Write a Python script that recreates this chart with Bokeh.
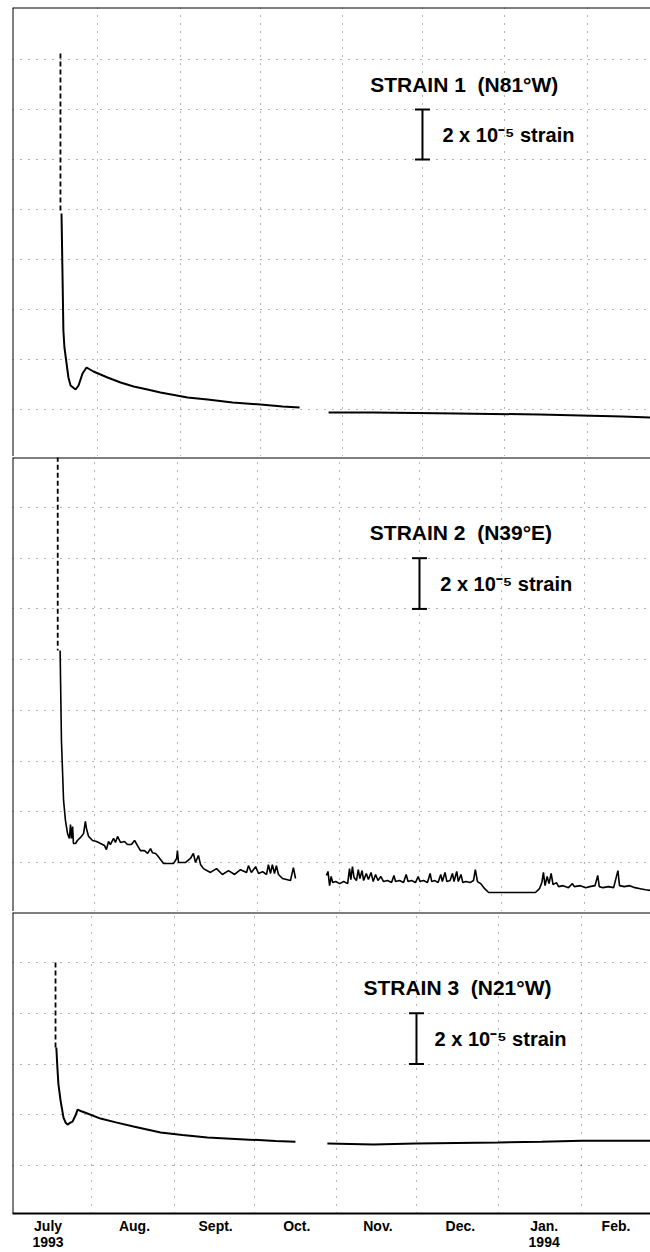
from bokeh.plotting import figure
from bokeh.models import Span, Grid, FixedTicker, Whisker, TeeHead, ColumnDataSource, Label
from bokeh.layouts import column
from bokeh.embed import file_html
from bokeh.resources import INLINE

# ---------------- data (x = days since 1 July 1993, y = strain in units of 1e-5) -------------
month_start_days = [31, 62, 92, 123, 153, 184, 215]
month_label_days = [14.5, 47, 77.5, 108, 138.5, 169.5, 201, 228]
month_labels = ["July\n1993", "Aug.", "Sept.", "Oct.", "Nov.", "Dec.", "Jan.\n1994", "Feb."]

titles = ["STRAIN 1\u00a0 (N81\u00b0W)", "STRAIN 2\u00a0 (N39\u00b0E)", "STRAIN 3\u00a0 (N21\u00b0W)"]
scale_text = "2 x 10\u207b\u2075 strain"

# strain 1
s1_dash_day = [16.9, 16.9]
s1_dash_val = [14.24, 7.84]
s1_day_a = [17.3, 17.7, 18.0, 18.4, 19.2, 19.9, 20.7, 22.6, 23.7, 25.2,
            26.7, 29.3, 34.6, 39.5, 44.4, 49.6, 54.5, 64.7, 72.2, 81.6,
            92.1, 100.4, 106.8]
s1_val_a = [7.84, 5.2, 3.16, 2.48, 1.84, 1.28, 0.96, 0.80, 0.96, 1.44,
            1.68, 1.52, 1.28, 1.08, 0.92, 0.80, 0.68, 0.48, 0.40, 0.28,
            0.20, 0.12, 0.08]
s1_day_b = [117.7, 134.6, 165.8, 197.0, 228.2, 238.7]
s1_val_b = [-0.12, -0.12, -0.16, -0.20, -0.28, -0.32]

# strain 2
s2_dash_day = [17.0, 17.0]
s2_dash_val = [16.0, 8.36]
s2_day_a = [17.9, 18.4, 19.2, 19.9, 20.7, 21.4, 21.8, 22.2, 22.6, 22.9,
            23.7, 24.4, 25.6, 26.7, 27.4, 27.8, 28.6, 30.1, 31.6, 33.1,
            34.6, 35.3, 36.1, 36.8, 38.0, 38.7, 39.5, 40.6, 42.1, 43.2,
            44.7, 45.9, 47.0, 48.1, 49.6, 50.8, 51.9, 52.6, 53.8, 54.5,
            56.8, 60.5, 61.7, 62.0, 62.4, 65.0, 66.9, 68.0, 68.8, 69.9,
            70.7, 71.8, 74.4, 76.7, 78.9, 81.2, 83.5, 85.7, 88.0, 88.7,
            89.8, 91.4, 92.5, 94.0, 95.5, 96.2, 97.0, 97.7, 98.5, 99.2,
            100.0, 101.5, 104.5, 105.6, 106.4]
s2_val_a = [8.36, 4.81, 2.45, 1.66, 1.14, 0.95, 1.50, 0.95, 1.42, 0.75,
            0.75, 0.87, 0.99, 1.14, 1.62, 1.34, 1.03, 0.87, 0.83, 0.75,
            0.67, 0.51, 0.83, 0.71, 0.95, 0.79, 1.03, 0.79, 0.83, 0.71,
            0.71, 0.87, 0.67, 0.47, 0.47, 0.36, 0.55, 0.39, 0.36, 0.28,
            -0.04, -0.04, 0.16, 0.47, 0.00, 0.00, 0.16, 0.36, 0.00, 0.28,
            -0.08, -0.24, -0.39, -0.24, -0.47, -0.32, -0.47, -0.28, -0.39, -0.12,
            -0.39, -0.16, -0.43, -0.36, -0.47, -0.08, -0.43, -0.08, -0.43, -0.12,
            -0.47, -0.63, -0.71, -0.20, -0.63]
s2_day_b = [118.0, 118.6, 119.2, 119.8, 120.4, 121.5, 123.0, 124.5, 126.0, 126.7,
            127.2, 127.8, 128.4, 129.3, 130.0, 130.6, 131.4, 132.0, 133.0, 133.8,
            134.8, 135.6, 136.5, 137.4, 138.5, 139.5, 141.0, 142.5, 143.4, 144.0,
            145.5, 147.0, 148.0, 148.7, 150.0, 151.5, 152.5, 153.2, 154.5, 156.0,
            157.0, 157.6, 158.8, 160.0, 161.0, 161.6, 162.6, 163.3, 164.5, 165.4,
            166.0, 167.0, 167.6, 168.6, 169.3, 170.5, 172.0, 173.3, 174.0, 174.8,
            176.0, 177.5, 179.0, 187.0, 196.6, 198.1, 199.0, 199.6, 200.2, 201.0,
            201.7, 202.5, 203.2, 204.5, 205.3, 207.0, 209.0, 210.5, 211.2, 213.5,
            215.5, 217.0, 219.0, 220.0, 220.6, 222.0, 224.0, 226.0, 227.6, 228.2,
            230.0, 232.0, 234.0, 236.0, 238.0, 239.8]
s2_val_b = [-0.51, -0.35, -0.91, -0.55, -0.79, -0.75, -0.83, -0.75, -0.83, -0.24,
            -0.67, -0.16, -0.59, -0.71, -0.28, -0.63, -0.32, -0.71, -0.43, -0.67,
            -0.39, -0.75, -0.47, -0.71, -0.55, -0.75, -0.71, -0.79, -0.51, -0.75,
            -0.71, -0.79, -0.47, -0.75, -0.71, -0.79, -0.55, -0.75, -0.71, -0.79,
            -0.43, -0.75, -0.71, -0.79, -0.47, -0.75, -0.39, -0.75, -0.71, -0.43,
            -0.75, -0.35, -0.75, -0.47, -0.79, -0.75, -0.79, -0.71, -0.28, -0.75,
            -0.83, -1.03, -1.18, -1.18, -1.18, -1.03, -0.79, -0.39, -0.91, -0.55,
            -0.83, -0.43, -0.87, -0.79, -0.95, -0.91, -0.99, -0.83, -0.95, -0.91,
            -0.99, -0.95, -0.91, -0.51, -0.95, -0.99, -0.95, -0.99, -0.32, -0.91,
            -0.95, -0.91, -0.99, -1.03, -1.07, -1.10]

# strain 3
s3_dash_day = [17.3, 17.3]
s3_dash_val = [8.0, 4.65]
s3_day_a = [17.6, 18.0, 18.4, 19.2, 20.3, 21.1, 21.8, 22.9, 23.7, 24.8,
            25.6, 27.0, 29.3, 34.2, 40.0, 46.6, 56.8, 65.0, 74.4, 90.2,
            100.0, 107.5]
s3_val_a = [4.65, 3.86, 3.20, 2.56, 1.89, 1.69, 1.61, 1.69, 1.73, 1.97,
            2.20, 2.14, 2.05, 1.85, 1.70, 1.54, 1.30, 1.20, 1.10, 1.02,
            0.97, 0.94]
s3_day_b = [119.5, 136.8, 152.6, 168.0, 183.8, 200.0, 215.0, 230.0, 241.0]
s3_val_b = [0.87, 0.83, 0.87, 0.89, 0.91, 0.94, 0.98, 0.98, 0.98]

# scale bars: 2 x 1e-5 strain, drawn at 1 Dec
scale_day = 153
scale_lo = [10, 10, 4]
scale_hi = [12, 12, 6]

# ---------------- layout / style ---------------------------------------------------------------
FONT = "'Liberation Sans', Arial, sans-serif"
PX_PER_DAY = 2.66
FRAME_LEFT = 12          # common left edge of the three frames (px)
FRAME_W = 650 - FRAME_LEFT

# day0_px: where 1 July falls in each (slightly skewed) scanned panel
panels = [
    dict(day0_px=15, fh=449, top=7, ylim=(-1.88, 16.08), grid_max=14,
         dash=(s1_dash_day, s1_dash_val), a=(s1_day_a, s1_val_a), b=(s1_day_b, s1_val_b),
         lw=2.0, title_xy=(168.7, 13.0), text_xy=(160.5, 11.0)),
    dict(day0_px=12, fh=454, top=1, ylim=(-1.93, 15.97), grid_max=14,
         dash=(s2_dash_day, s2_dash_val), a=(s2_day_a, s2_val_a), b=(s2_day_b, s2_val_b),
         lw=1.6, title_xy=(168.6, 13.0), text_xy=(160.8, 11.0)),
    dict(day0_px=9, fh=301, top=1, ylim=(-1.89, 9.97), grid_max=8,
         dash=(s3_dash_day, s3_dash_val), a=(s3_day_a, s3_val_a), b=(s3_day_b, s3_val_b),
         lw=2.0, title_xy=(168.4, 7.0), text_xy=(159.8, 5.0)),
]

figs = []
for i, cfg in enumerate(panels):
    last = i == len(panels) - 1
    x0 = (FRAME_LEFT - cfg["day0_px"]) / PX_PER_DAY
    x1 = x0 + FRAME_W / PX_PER_DAY
    p = figure(frame_width=FRAME_W, frame_height=cfg["fh"],
               x_range=(x0, x1), y_range=cfg["ylim"],
               x_axis_type="linear" if last else None, y_axis_type=None,
               toolbar_location=None, output_backend="svg",
               min_border_left=FRAME_LEFT, min_border_right=0,
               min_border_top=cfg["top"], min_border_bottom=0,
               outline_line_color=None, background_fill_color="white",
               border_fill_color="white")
    if last:
        p.xgrid.visible = False
        ax = p.xaxis[0]
        ax.ticker = FixedTicker(ticks=month_label_days)
        ax.major_label_overrides = {d: t for d, t in zip(month_label_days, month_labels)}
        ax.major_tick_line_color = None
        ax.minor_tick_line_color = None
        ax.major_tick_out = 0
        ax.major_tick_in = 0
        ax.axis_line_color = "black"
        ax.axis_line_width = 2
        ax.major_label_standoff = 4
        ax.major_label_text_font = FONT
        ax.major_label_text_font_style = "bold"
        ax.major_label_text_font_size = "14px"
        ax.major_label_text_color = "black"
        ax.major_label_text_line_height = 1.05

    # dotted chart-paper grid
    p.add_layout(Grid(dimension=0, ticker=FixedTicker(ticks=month_start_days),
                      grid_line_color="black", grid_line_dash="1 7",
                      grid_line_width=1, grid_line_alpha=0.6))
    p.add_layout(Grid(dimension=1, ticker=FixedTicker(ticks=list(range(0, cfg["grid_max"] + 1, 2))),
                      grid_line_color="black", grid_line_dash="1 7",
                      grid_line_width=1, grid_line_alpha=0.6))

    # frame borders
    p.add_layout(Span(location=x0, dimension="height", line_color="black", line_width=2))
    p.add_layout(Span(location=cfg["ylim"][1], dimension="width", line_color="black", line_width=2))
    if not last:
        p.add_layout(Span(location=cfg["ylim"][0], dimension="width", line_color="black", line_width=1))

    # data
    p.line(cfg["dash"][0], cfg["dash"][1], line_color="black", line_width=1.8, line_dash="5 3")
    p.line(cfg["a"][0], cfg["a"][1], line_color="black", line_width=cfg["lw"])
    p.line(cfg["b"][0], cfg["b"][1], line_color="black", line_width=cfg["lw"])

    # scale bar
    src = ColumnDataSource(dict(base=[scale_day], lower=[scale_lo[i]], upper=[scale_hi[i]]))
    p.add_layout(Whisker(source=src, base="base", lower="lower", upper="upper",
                         dimension="height", line_color="black", line_width=2,
                         upper_head=TeeHead(size=15, line_width=2, line_color="black"),
                         lower_head=TeeHead(size=15, line_width=2, line_color="black")))

    p.add_layout(Label(x=cfg["title_xy"][0], y=cfg["title_xy"][1], text=titles[i],
                       text_align="center", text_baseline="middle",
                       text_font=FONT, text_font_style="bold", text_font_size="21px",
                       text_color="black"))
    p.add_layout(Label(x=cfg["text_xy"][0], y=cfg["text_xy"][1], text=scale_text,
                       text_align="left", text_baseline="middle",
                       text_font=FONT, text_font_style="bold", text_font_size="20px",
                       text_color="black"))
    figs.append(p)

layout = column(*figs, spacing=0)
open("out.html", "w").write(file_html(layout, INLINE))
